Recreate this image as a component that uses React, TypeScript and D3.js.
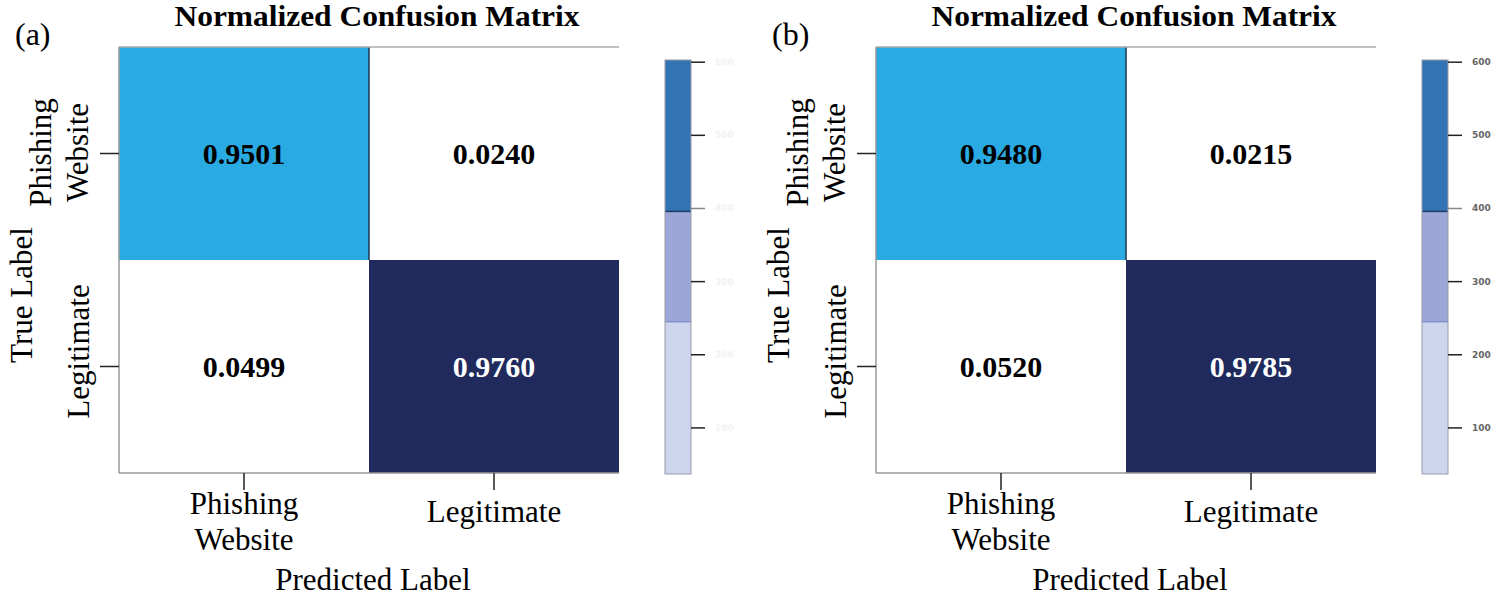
import React from "react";
import * as d3 from "d3";

const categories = ["Phishing Website", "Legitimate"];
const categoryLines = [["Phishing", "Website"], ["Legitimate"]];
const panelLabels = ["(a)", "(b)"];
const matrixA = [
  [0.9501, 0.024],
  [0.0499, 0.976],
];
const matrixB = [
  [0.948, 0.0215],
  [0.052, 0.9785],
];
const colorbarTicks = [100, 200, 300, 400, 500, 600];
const colorbarDomain = [37, 603];
const colorbarBands = [
  [37, 245],
  [245, 396],
  [396, 603],
];

const SERIF = "'Liberation Serif', 'DejaVu Serif', serif";
const W = 1500;
const H = 606;
const MW = 500;
const MH = 426;

const cellFill = (r: number, c: number) =>
  r !== c ? "#ffffff" : r === 0 ? "#2aaae2" : "#202a5d";
const bandFills = ["#cdd5ec", "#9ba7d6", "#3273b3"];

function Panel({ ox, data, label, faintTicks }: { ox: number; data: number[][]; label: string; faintTicks: boolean }) {
  const oy = 47;
  const x = d3.scaleBand<string>().domain(categories).range([0, MW]);
  const y = d3.scaleBand<string>().domain(categories).range([0, MH]);
  const cb = d3.scaleLinear().domain(colorbarDomain).range([474 - oy, 60 - oy]);
  const cbx = 546;
  const cbw = 26;
  return (
    <g transform={`translate(${ox},${oy})`}>
      <text x={-104} y={-2} fontFamily={SERIF} fontSize={32}>{label}</text>
      <text
        x={MW / 2 + 8}
        y={-21}
        textAnchor="middle"
        fontFamily={SERIF}
        fontSize={30}
        fontWeight="bold"
        textLength={405}
        lengthAdjust="spacingAndGlyphs"
      >
        Normalized Confusion Matrix
      </text>
      {data.map((row, r) =>
        row.map((v, c) => (
          <g key={`${r}-${c}`}>
            <rect x={x(categories[c])} y={y(categories[r])} width={x.bandwidth()} height={y.bandwidth()} fill={cellFill(r, c)} />
            <text
              x={(x(categories[c]) as number) + x.bandwidth() / 2}
              y={(y(categories[r]) as number) + y.bandwidth() / 2 + 10}
              textAnchor="middle"
              fontFamily={SERIF}
              fontSize={30}
              fontWeight="bold"
              fill={r === 1 && c === 1 ? "#ffffff" : "#000000"}
            >
              {v.toFixed(4)}
            </text>
          </g>
        ))
      )}
      <line x1={x.bandwidth()} x2={x.bandwidth()} y1={0} y2={y.bandwidth()} stroke="#1b3550" strokeWidth={1.5} />
      <line x1={0} x2={MW} y1={0} y2={0} stroke="#aaaaaa" strokeWidth={1.5} />
      <line x1={0} x2={0} y1={0} y2={MH} stroke="#999999" strokeWidth={1.5} />
      <line x1={0} x2={MW} y1={MH} y2={MH} stroke="#999999" strokeWidth={1.5} />
      {categories.map((cat, i) => {
        const cx = (x(cat) as number) + x.bandwidth() / 2;
        const cy = (y(cat) as number) + y.bandwidth() / 2;
        const lines = categoryLines[i];
        return (
          <g key={cat}>
            <line x1={cx} x2={cx} y1={MH} y2={MH + 17} stroke="#222" strokeWidth={1.5} />
            <line x1={-19} x2={0} y1={cy} y2={cy} stroke="#222" strokeWidth={1.5} />
            {lines.map((ln, j) => (
              <text key={ln} x={cx} y={MH + (lines.length > 1 ? 41 + j * 36 : 49)} textAnchor="middle" fontFamily={SERIF} fontSize={31}>
                {ln}
              </text>
            ))}
            {lines.map((ln, j) => (
              <text
                key={"y" + ln}
                transform={`translate(${lines.length > 1 ? -68 + j * 37 : -30},${lines.length > 1 ? cy - 1 : cy - 15}) rotate(-90)`}
                textAnchor="middle"
                fontFamily={SERIF}
                fontSize={31}
              >
                {ln}
              </text>
            ))}
          </g>
        );
      })}
      <text x={MW / 2 + 4} y={543} textAnchor="middle" fontFamily={SERIF} fontSize={31}>Predicted Label</text>
      <text transform={`translate(${-87},${248}) rotate(-90)`} textAnchor="middle" fontFamily={SERIF} fontSize={31}>True Label</text>
      {colorbarBands.map((b, i) => (
        <rect key={i} x={cbx} y={cb(b[1])} width={cbw} height={cb(b[0]) - cb(b[1])} fill={bandFills[i]} />
      ))}
      <line x1={cbx} x2={cbx + cbw} y1={cb(colorbarBands[1][1])} y2={cb(colorbarBands[1][1])} stroke="#1e3a66" strokeWidth={1.5} />
      <line x1={cbx} x2={cbx + cbw} y1={cb(colorbarBands[0][1])} y2={cb(colorbarBands[0][1])} stroke="#6f7fc4" strokeWidth={1} />
      <rect x={cbx} y={cb(colorbarDomain[1])} width={cbw} height={cb(colorbarDomain[0]) - cb(colorbarDomain[1])} fill="none" stroke="#9a9aa8" strokeWidth={1} />
      {colorbarTicks.map((t) => (
        <g key={t}>
          <line x1={cbx + cbw} x2={cbx + cbw + 14} y1={cb(t)} y2={cb(t)} stroke={t === 400 ? "#888" : "#222"} strokeWidth={1.5} />
          <text
            x={cbx + cbw + 24}
            y={cb(t) + 3}
            fontFamily="'DejaVu Sans', sans-serif"
            fontSize={9}
            fontWeight="bold"
            fill={faintTicks ? "#f2f2f2" : "#666666"}
          >
            {t}
          </text>
        </g>
      ))}
    </g>
  );
}

export default function App() {
  return (
    <svg width={W} height={H} style={{ position: "absolute", left: 0, top: 0, background: "#fff" }}>
      <rect width={W} height={H} fill="#fff" />
      <Panel ox={119} data={matrixA} label={panelLabels[0]} faintTicks={true} />
      <Panel ox={876} data={matrixB} label={panelLabels[1]} faintTicks={false} />
    </svg>
  );
}
